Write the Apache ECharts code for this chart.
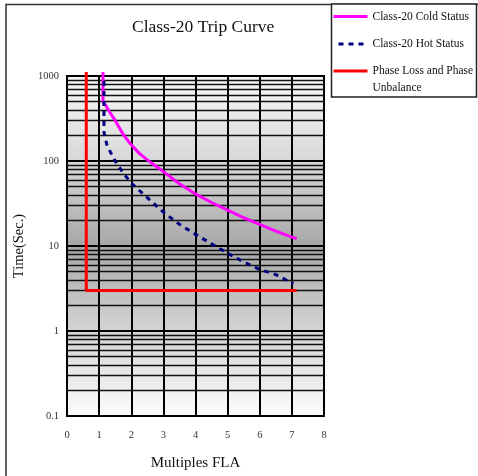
<!DOCTYPE html>
<html><head><meta charset="utf-8">
<script src="https://cdn.jsdelivr.net/npm/echarts@6/dist/echarts.min.js"></script>
<style>html,body{margin:0;padding:0;background:#fff}#c{width:478px;height:476px}</style>
</head><body><div id="c"></div>
<script>
const xTickLabels = ['0','1','2','3','4','5','6','7','8'];
const yTickValues = [0.1, 1, 10, 100, 1000];
const minorGridValues = [0.2,0.3,0.4,0.5,0.6,0.7,0.8,0.9, 2,3,4,5,6,7,8,9, 20,30,40,50,60,70,80,90, 200,300,400,500,600,700,800,900];
const seriesNames = ['Class-20 Cold Status', 'Class-20 Hot Status', 'Phase Loss and Phase Unbalance'];
const coldStatus = [[1.12,1115],[1.12,500],[1.2,455],[1.3,390],[1.5,300],[1.75,205],[2,155],[2.25,123],[2.5,103],[2.75,88],[3,75],[3.5,54],[4,41],[4.5,32.5],[5,26.5],[5.5,21.5],[6,18],[6.5,15],[7,12.7],[7.15,12.2]];
const hotStatus = [[1.15,1000],[1.15,220],[1.25,150],[1.5,100],[1.75,72],[2,55],[2.5,37],[3,25],[3.5,18],[4,13.7],[4.5,10.6],[5,8.2],[5.5,6.5],[6,5.3],[6.5,4.6],[7.05,3.6]];
const phaseLoss = [[0.6,1115],[0.6,3],[7.15,3]];

const FONT = 'Liberation Serif';
const chart = echarts.init(document.getElementById('c'), null, {renderer: 'canvas'});
const legendCommon = {
  orient: 'vertical', padding: 0, itemWidth: 34, itemHeight: 14,
  textStyle: {fontFamily: FONT, fontSize: 11.5, color: '#111', lineHeight: 17},
  lineStyle: {width: 3},
  itemStyle: {color: 'rgba(0,0,0,0)', borderWidth: 0, opacity: 0},
  selectedMode: false
};
chart.setOption({
  animation: false,
  backgroundColor: '#fff',
  title: {
    text: 'Class-20 Trip Curve', left: 127, top: 13,
    textStyle: {fontFamily: FONT, fontSize: 17.5, fontWeight: 'normal', color: '#111'}
  },
  graphic: [
    {type: 'rect', z: -10, silent: true, shape: {x: 6, y: 4.5, width: 700, height: 700}, style: {fill: 'none', stroke: '#333', lineWidth: 1.5}},
    {type: 'rect', z: 10, silent: true, shape: {x: 331.5, y: 4, width: 145, height: 93}, style: {fill: '#fff', stroke: '#222', lineWidth: 1.5}}
  ],
  legend: [
    Object.assign({}, legendCommon, {left: 332, top: 8, data: [seriesNames[0]], z: 20}),
    Object.assign({}, legendCommon, {left: 332, top: 35.5, data: [seriesNames[1]], z: 20}),
    Object.assign({}, legendCommon, {left: 332, top: 45.5, z: 20,
      data: [seriesNames[2]],
      formatter: () => '\nPhase Loss and Phase\nUnbalance'})
  ],
  grid: {
    left: 67, right: 154, top: 76, bottom: 59, show: true,
    borderColor: '#000', borderWidth: 2,
    backgroundColor: new echarts.graphic.LinearGradient(0, 0, 0, 1, [
      {offset: 0, color: '#f8f8f8'},
      {offset: 0.25, color: '#d8d8d8'},
      {offset: 0.5, color: '#a7a7a7'},
      {offset: 0.75, color: '#d4d4d4'},
      {offset: 1, color: '#fcfcfc'}
    ])
  },
  xAxis: {
    type: 'value', min: 0, max: 8, interval: 1,
    name: 'Multiples FLA', nameLocation: 'middle', nameGap: 40,
    nameTextStyle: {fontFamily: FONT, fontSize: 15, color: '#111'},
    axisLine: {show: true, lineStyle: {color: '#000', width: 2}},
    axisTick: {show: false},
    splitLine: {show: true, lineStyle: {color: '#000', width: 2}},
    axisLabel: {fontFamily: FONT, fontSize: 10.5, color: '#333', margin: 14,
      formatter: (v) => xTickLabels[Math.round(v)]}
  },
  yAxis: {
    type: 'log', logBase: 10, min: yTickValues[0], max: yTickValues[yTickValues.length - 1],
    name: 'Time(Sec.)', nameLocation: 'middle', nameGap: 38, nameRotate: 90,
    nameTextStyle: {fontFamily: FONT, fontSize: 14.5, color: '#111'},
    axisLine: {show: true, lineStyle: {color: '#000', width: 2}},
    axisTick: {show: false},
    splitLine: {show: true, lineStyle: {color: '#000', width: 2}},
    axisLabel: {fontFamily: FONT, fontSize: 10.5, color: '#333', margin: 8,
      formatter: (v) => String(v)}
  },
  series: [
    {
      name: '__grid', type: 'line', data: [], z: 1, silent: true,
      markLine: {
        silent: true, symbol: 'none', animation: false, z: 1,
        label: {show: false},
        lineStyle: {color: '#111', width: 1.3, type: 'solid'},
        emphasis: {disabled: true},
        data: minorGridValues.map(v => ({yAxis: v}))
      }
    },
    {
      name: seriesNames[0], type: 'line', data: coldStatus, smooth: false, clip: false,
      showSymbol: false, symbol: 'none', z: 10,
      lineStyle: {color: '#ff00ff', width: 3, join: 'round'}, itemStyle: {color: '#ff00ff'}
    },
    {
      name: seriesNames[1], type: 'line', data: hotStatus, smooth: false, clip: false,
      showSymbol: false, symbol: 'none', z: 11,
      lineStyle: {color: '#000080', width: 3, type: [5, 5], dashOffset: 5}, itemStyle: {color: '#000080'}
    },
    {
      name: seriesNames[2], type: 'line', data: phaseLoss, smooth: false, clip: false,
      showSymbol: false, symbol: 'none', z: 10,
      lineStyle: {color: '#ff0000', width: 3}, itemStyle: {color: '#ff0000'}
    }
  ]
});
</script></body></html>
